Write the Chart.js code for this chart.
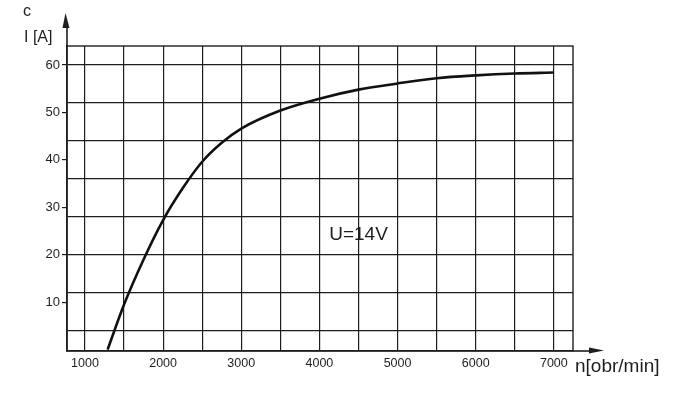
<!DOCTYPE html>
<html>
<head>
<meta charset="utf-8">
<script src="https://cdn.jsdelivr.net/npm/chart.js@4.4.1/dist/chart.umd.min.js"></script>
<style>
  html, body { margin: 0; padding: 0; background: #fff; }
  canvas { display: block; }
</style>
</head>
<body>
<canvas id="grafico" width="692" height="396"></canvas>
<script>
// obroty alternatora i prad
const obroty = [1290, 1500, 1750, 2000, 2250, 2500, 2750, 3000, 3500, 4000, 4500, 5000, 5500, 6000, 6500, 7000];
const prad = [0, 9.5, 19, 27.3, 34, 39.6, 43.6, 46.6, 50.4, 52.9, 54.8, 56.1, 57.2, 57.8, 58.2, 58.4];

const siatkaX = [1000, 1500, 2000, 2500, 3000, 3500, 4000, 4500, 5000, 5500, 6000, 6500, 7000];
const opisyX = [1000, 2000, 3000, 4000, 5000, 6000, 7000];
const siatkaY = [4, 12, 20, 28, 36, 44, 52, 60];
const opisyY = [10, 20, 30, 40, 50, 60];

const kolor = '#1e1e1e';
const czcionka = "'Liberation Sans', Arial, sans-serif";

const strzalki = {
    id: 'strzalki',
    afterDraw(chart) {
        const ctx = chart.ctx;
        const a = chart.chartArea;
        const sx = chart.scales.x, sy = chart.scales.y;
        ctx.save();
        ctx.strokeStyle = kolor;
        ctx.fillStyle = kolor;
        // ramka
        ctx.lineWidth = 1.4;
        ctx.strokeRect(a.left, a.top, a.right - a.left, a.bottom - a.top);
        // os Y ze strzalka
        ctx.lineWidth = 1.6;
        ctx.beginPath();
        ctx.moveTo(a.left, a.top);
        ctx.lineTo(a.left, a.top - 24);
        ctx.stroke();
        ctx.beginPath();
        ctx.moveTo(a.left - 1.5, a.top - 33);
        ctx.lineTo(a.left - 4.5, a.top - 18);
        ctx.lineTo(a.left + 2.5, a.top - 18);
        ctx.closePath();
        ctx.fill();
        // os X ze strzalka
        ctx.beginPath();
        ctx.moveTo(a.right, a.bottom);
        ctx.lineTo(a.right + 20, a.bottom);
        ctx.stroke();
        ctx.beginPath();
        ctx.moveTo(a.right + 31, a.bottom - 0.5);
        ctx.lineTo(a.right + 16, a.bottom - 3.5);
        ctx.lineTo(a.right + 16, a.bottom + 2.5);
        ctx.closePath();
        ctx.fill();
        // napisy
        ctx.textBaseline = 'middle';
        ctx.textAlign = 'left';
        ctx.font = '16px ' + czcionka;
        ctx.fillText('c', 23, 12);
        ctx.fillText('I [A]', 24, 38);
        ctx.font = '19px ' + czcionka;
        ctx.fillText('n[obr/min]', a.right + 2, 367);
        ctx.textAlign = 'center';
        ctx.fillText('U=14V', sx.getPixelForValue(4500), sy.getPixelForValue(24.2));
        ctx.restore();
    }
};

const ctx = document.getElementById('grafico');
new Chart(ctx, {
    type: 'line',
    data: {
        datasets: [{
            data: obroty.map((o, i) => ({ x: o, y: prad[i] })),
            borderColor: '#111',
            borderWidth: 2.6,
            pointRadius: 0,
            fill: false,
            cubicInterpolationMode: 'monotone'
        }]
    },
    options: {
        responsive: false,
        animation: false,
        devicePixelRatio: 1,
        layout: { padding: { top: 46, right: 119, bottom: 0, left: 0 } },
        plugins: {
            legend: { display: false },
            tooltip: { enabled: false }
        },
        scales: {
            x: {
                type: 'linear',
                min: 770,
                max: 7245,
                afterBuildTicks: (axis) => { axis.ticks = siatkaX.map(v => ({ value: v })); },
                afterFit: (axis) => { axis.height = 45; },
                border: { color: kolor, width: 1.6 },
                grid: { color: kolor, lineWidth: 1.2, drawTicks: false },
                ticks: {
                    autoSkip: false,
                    maxRotation: 0,
                    padding: 5,
                    color: kolor,
                    font: { family: czcionka, size: 12.5 },
                    callback: (v) => opisyX.includes(v) ? v : ''
                }
            },
            y: {
                type: 'linear',
                min: -0.3,
                max: 64,
                afterBuildTicks: (axis) => {
                    const wszystkie = [...new Set([...siatkaY, ...opisyY])].sort((a, b) => a - b);
                    axis.ticks = wszystkie.map(v => ({ value: v }));
                },
                afterFit: (axis) => { axis.width = 67; },
                border: { color: kolor, width: 1.6 },
                grid: {
                    lineWidth: 1.2,
                    tickLength: 5,
                    color: (c) => siatkaY.includes(c.tick.value) ? kolor : 'rgba(0,0,0,0)',
                    tickColor: (c) => opisyY.includes(c.tick.value) ? kolor : 'rgba(0,0,0,0)'
                },
                ticks: {
                    padding: 2,
                    color: kolor,
                    font: { family: czcionka, size: 13 },
                    callback: (v) => opisyY.includes(v) ? v : ''
                }
            }
        }
    },
    plugins: [strzalki]
});
</script>
</body>
</html>
